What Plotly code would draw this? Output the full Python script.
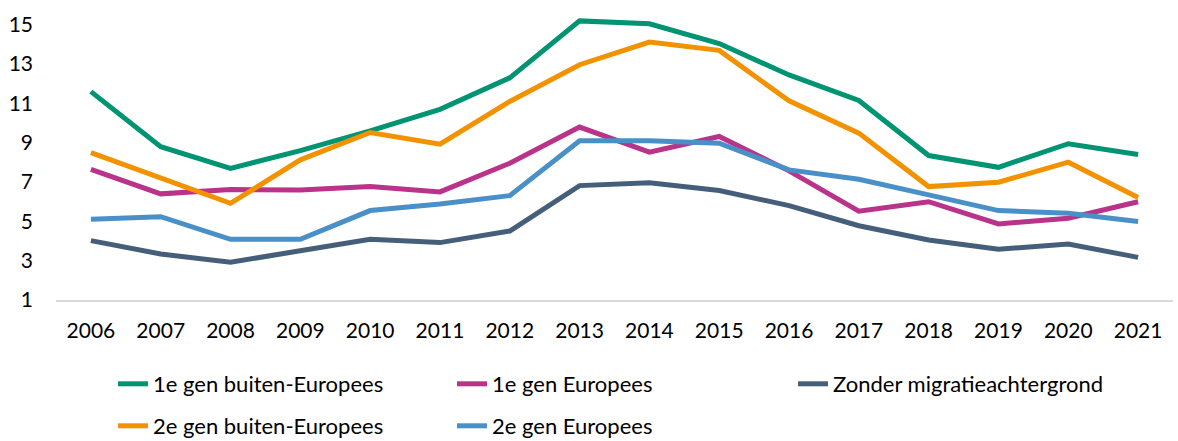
import plotly.graph_objects as go

years = [str(y) for y in range(2006, 2022)]

gen1_buiten = [11.6, 8.8, 7.7, 8.6, 9.6, 10.7, 12.3, 15.2, 15.05, 14.05, 12.45, 11.15, 8.35, 7.75, 8.95, 8.4]
gen1_europees = [7.65, 6.4, 6.62, 6.6, 6.77, 6.5, 7.96, 9.8, 8.52, 9.32, 7.57, 5.52, 6.0, 4.87, 5.16, 6.0]
zonder = [4.02, 3.34, 2.92, 3.51, 4.09, 3.92, 4.51, 6.82, 6.97, 6.57, 5.8, 4.78, 4.05, 3.58, 3.85, 3.17]
gen2_buiten = [8.5, 7.23, 5.92, 8.13, 9.52, 8.93, 11.1, 12.97, 14.12, 13.7, 11.13, 9.49, 6.77, 6.99, 8.01, 6.21]
gen2_europees = [5.11, 5.24, 4.09, 4.09, 5.55, 5.89, 6.31, 9.1, 9.1, 8.98, 7.62, 7.14, 6.35, 5.55, 5.41, 4.99]

names = ["1e gen buiten-Europees", "1e gen Europees", "Zonder migratieachtergrond",
         "2e gen buiten-Europees", "2e gen Europees"]
series = [gen1_buiten, gen1_europees, zonder, gen2_buiten, gen2_europees]
colors = ["#009473", "#B9338A", "#455F7A", "#F39200", "#4A90C8"]

y_ticks = [1, 3, 5, 7, 9, 11, 13, 15]

W, H = 1178, 441
ML, MR, MT, MB = 56, 5, 15, 141
PW = W - ML - MR
PH = H - MT - MB

# legend placement (pixel text start, pixel row center)
leg_pos = [(153, 384), (492, 384), (833, 384), (153, 426), (492, 426)]
TEXT_OFFSET = 40

font = dict(family="Lato, 'DejaVu Sans', sans-serif", size=21, color="#000000")
legend_font = dict(family="Lato, 'DejaVu Sans', sans-serif", size=22, color="#000000")

fig = go.Figure()
legend_layout = {}
for i, (name, vals, col) in enumerate(zip(names, series, colors)):
    key = "legend" if i == 0 else f"legend{i + 1}"
    fig.add_trace(go.Scatter(x=years, y=vals, name=name, mode="lines",
                             line=dict(color=col, width=5), legend=key))
    tx, ty = leg_pos[i]
    legend_layout[key] = dict(
        x=(tx - TEXT_OFFSET - ML) / PW, xanchor="left",
        y=(MT + PH - ty) / PH, yanchor="middle",
        orientation="h", font=legend_font, bgcolor="rgba(0,0,0,0)",
        borderwidth=0, itemwidth=30)

fig.update_layout(
    width=W, height=H,
    margin=dict(l=ML, r=MR, t=MT, b=MB, autoexpand=False),
    paper_bgcolor="white", plot_bgcolor="white",
    font=font,
    showlegend=True,
    xaxis=dict(type="category", range=[-0.5, 15.5], showgrid=False,
               showline=True, linecolor="#D9D9D9", linewidth=1.5,
               ticks="", ticklabelstandoff=11, zeroline=False, automargin=False),
    yaxis=dict(range=[1, 15.5], tickvals=y_ticks, showgrid=False,
               showline=False, zeroline=False, ticks="",
               ticklabelstandoff=22, automargin=False),
    **legend_layout,
)

fig.write_html("out.html",
               config={"displayModeBar": False},
               post_script="document.body.style.margin='0';document.body.style.overflow='hidden';")
